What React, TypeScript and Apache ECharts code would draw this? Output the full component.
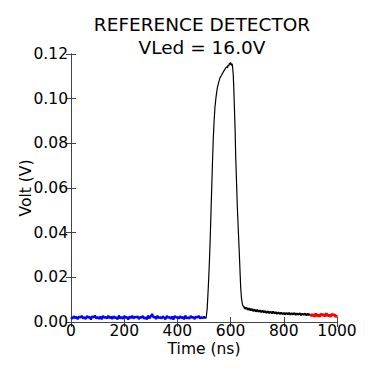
import React, { useEffect, useRef } from 'react';
import * as echarts from 'echarts';

const titleLines = ['REFERENCE DETECTOR', 'VLed = 16.0V'];
const xName = 'Time (ns)';
const yName = 'Volt (V)';

// baseline before pulse (blue)
const baselineData: [number, number][] = [
  [0, 0.0021], [5, 0.0014], [10, 0.0026], [15, 0.0017], [20, 0.0023], [25, 0.0012], [30, 0.0025], [35, 0.0019], [40, 0.0028], [45, 0.0015],
  [50, 0.0022], [55, 0.0013], [60, 0.0027], [65, 0.0018], [70, 0.0024], [75, 0.0011], [80, 0.0026], [85, 0.0020], [90, 0.0029], [95, 0.0016],
  [100, 0.0023], [105, 0.0014], [110, 0.0025], [115, 0.0012], [120, 0.0027], [125, 0.0019], [130, 0.0022], [135, 0.0015], [140, 0.0028], [145, 0.0017],
  [150, 0.0024], [155, 0.0013], [160, 0.0026], [165, 0.0018], [170, 0.0021], [175, 0.0012], [180, 0.0029], [185, 0.0016], [190, 0.0023], [195, 0.0014],
  [200, 0.0027], [205, 0.0019], [210, 0.0022], [215, 0.0011], [220, 0.0025], [225, 0.0017], [230, 0.0028], [235, 0.0015], [240, 0.0024], [245, 0.0020],
  [250, 0.0026], [255, 0.0013], [260, 0.0023], [265, 0.0018], [270, 0.0027], [275, 0.0014], [280, 0.0021], [285, 0.0012], [290, 0.0029], [295, 0.0016],
  [300, 0.0025], [305, 0.0036], [310, 0.0019], [315, 0.0024], [320, 0.0013], [325, 0.0028], [330, 0.0017], [335, 0.0022], [340, 0.0015], [345, 0.0026],
  [350, 0.0020], [355, 0.0012], [360, 0.0027], [365, 0.0018], [370, 0.0023], [375, 0.0014], [380, 0.0025], [385, 0.0011], [390, 0.0028], [395, 0.0019],
  [400, 0.0022], [405, 0.0015], [410, 0.0026], [415, 0.0017], [420, 0.0024], [425, 0.0012], [430, 0.0029], [435, 0.0016], [440, 0.0021], [445, 0.0014],
  [450, 0.0027], [455, 0.0018], [460, 0.0023], [465, 0.0013], [470, 0.0025], [475, 0.0019], [480, 0.0028], [485, 0.0015], [490, 0.0022], [495, 0.0017],
  [500, 0.0024], [505, 0.0016],
];

// pulse (black)
const pulseData: [number, number][] = [
  [505, 0.0016], [508, 0.0018], [512, 0.0060], [516, 0.0152], [520, 0.0260], [523, 0.0360], [526, 0.0480], [529, 0.0600],
  [532, 0.0720], [535, 0.0824], [538, 0.0900], [541, 0.0958], [545, 0.1005], [550, 0.1048], [555, 0.1072], [560, 0.1093],
  [566, 0.1105], [573, 0.1121], [579, 0.1132], [585, 0.1143], [588, 0.1138], [590, 0.1150], [593, 0.1146], [596, 0.1160],
  [598, 0.1153], [600, 0.1162], [603, 0.1149], [606, 0.1156], [608, 0.1135], [610, 0.1106], [612, 0.1045], [614, 0.0972],
  [617, 0.0860], [619, 0.0748], [622, 0.0636], [625, 0.0524], [629, 0.0410], [633, 0.0300], [636, 0.0210], [638, 0.0152],
  [641, 0.0105], [645, 0.0076], [650, 0.0068],
];

// decay tail (black)
const tailData: [number, number][] = [
  [650, 0.0068], [655, 0.0060], [660, 0.0064], [665, 0.0055], [670, 0.0061], [675, 0.0052], [680, 0.0058], [685, 0.0049], [690, 0.0056], [695, 0.0047],
  [700, 0.0054], [705, 0.0046], [710, 0.0052], [715, 0.0044], [720, 0.0051], [725, 0.0043], [730, 0.0049], [735, 0.0041], [740, 0.0048], [745, 0.0040],
  [750, 0.0046], [755, 0.0039], [760, 0.0047], [765, 0.0038], [770, 0.0044], [775, 0.0037], [780, 0.0043], [785, 0.0036], [790, 0.0042], [795, 0.0035],
  [800, 0.0041], [805, 0.0034], [810, 0.0040], [815, 0.0035], [820, 0.0041], [825, 0.0033], [830, 0.0039], [835, 0.0034], [840, 0.0040], [845, 0.0032],
  [850, 0.0038], [855, 0.0033], [860, 0.0039], [865, 0.0031], [870, 0.0037], [875, 0.0032], [880, 0.0038], [885, 0.0030], [890, 0.0037], [895, 0.0031],
  [900, 0.0036],
];

// end window (red)
const endData: [number, number][] = [
  [900, 0.0036], [905, 0.0027], [910, 0.0034], [915, 0.0024], [920, 0.0038], [925, 0.0026], [930, 0.0033], [935, 0.0023], [940, 0.0037], [945, 0.0028],
  [950, 0.0035], [955, 0.0025], [960, 0.0039], [965, 0.0027], [970, 0.0032], [975, 0.0024], [980, 0.0036], [985, 0.0029], [990, 0.0034], [995, 0.0023],
  [1000, 0.0031],
];

const FONT = 'DejaVu Sans';

export default function App() {
  const ref = useRef<HTMLDivElement>(null);
  useEffect(() => {
    const chart = echarts.init(ref.current!, null, { renderer: 'svg' });
    const axisLine = { show: true, lineStyle: { color: '#444', width: 1 } };
    const tick = { show: true, inside: true, length: 5, lineStyle: { color: '#444', width: 1 } };
    const labelStyle = { fontFamily: FONT, fontSize: 15.5, color: '#000' };
    chart.setOption({
      animation: false,
      backgroundColor: '#fff',
      grid: { left: 71, right: 37, top: 54, bottom: 52, containLabel: false },
      graphic: [
        { type: 'text', x: 202, y: 24, style: { text: titleLines[0], fill: '#000', font: `18.5px "${FONT}"`, textAlign: 'center', textVerticalAlign: 'middle' } },
        { type: 'text', x: 202, y: 47, style: { text: titleLines[1], fill: '#000', font: `18.5px "${FONT}"`, textAlign: 'center', textVerticalAlign: 'middle' } },
      ],
      xAxis: [
        {
          type: 'value', min: 0, max: 1000, interval: 200, position: 'bottom',
          name: xName, nameLocation: 'middle', nameGap: 19, nameMoveOverlap: false,
          nameTextStyle: labelStyle,
          axisLine, axisTick: tick, splitLine: { show: false },
          axisLabel: { ...labelStyle, margin: 1, formatter: (v: number) => String(v) },
        },
        {
          type: 'value', min: 0, max: 1000, interval: 200, position: 'top',
          axisLine, axisTick: tick, splitLine: { show: false }, axisLabel: { show: false },
        },
      ],
      yAxis: [
        {
          type: 'value', min: 0, max: 0.12, interval: 0.02, position: 'left',
          name: yName, nameLocation: 'middle', nameGap: 37, nameRotate: 90, nameMoveOverlap: false,
          nameTextStyle: labelStyle,
          axisLine, axisTick: tick, splitLine: { show: false },
          axisLabel: { ...labelStyle, margin: 3, formatter: (v: number) => v.toFixed(2) },
        },
        {
          type: 'value', min: 0, max: 0.12, interval: 0.02, position: 'right',
          axisLine, axisTick: tick, splitLine: { show: false }, axisLabel: { show: false },
        },
      ],
      series: [
        { type: 'line', data: baselineData, showSymbol: false, lineStyle: { color: '#0000ff', width: 2.2 }, itemStyle: { color: '#0000ff' }, silent: true },
        { type: 'line', data: pulseData, showSymbol: false, lineStyle: { color: '#000000', width: 1.2 }, itemStyle: { color: '#000' }, silent: true },
        { type: 'line', data: tailData, showSymbol: false, lineStyle: { color: '#000000', width: 2 }, itemStyle: { color: '#000' }, silent: true },
        { type: 'line', data: endData, showSymbol: false, lineStyle: { color: '#ff0000', width: 2.6 }, itemStyle: { color: '#ff0000' }, silent: true },
      ],
    });
    return () => chart.dispose();
  }, []);
  return <div ref={ref} style={{ position: 'fixed', left: 0, top: 0, width: 374, height: 374 }} />;
}
